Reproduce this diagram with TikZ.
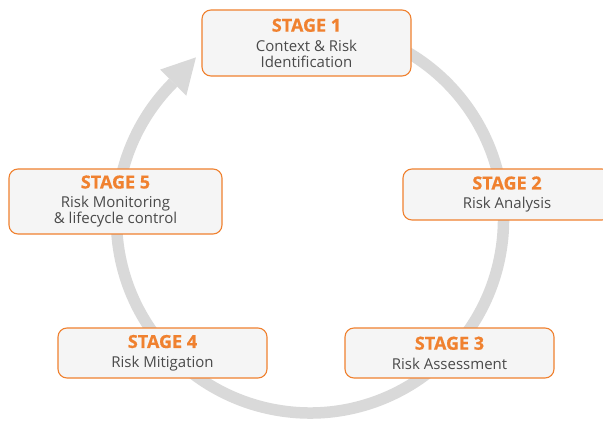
\documentclass[tikz,border=0pt]{standalone}
\usepackage{fontspec}
\setmainfont{Open Sans}
\newfontfamily\headfont[FakeBold=0.6]{Open Sans Bold}
\usetikzlibrary{calc}
\definecolor{stageorange}{HTML}{F0812F}
\definecolor{stagefill}{HTML}{F5F5F5}
\definecolor{ringgray}{HTML}{D9D9D9}
\definecolor{stagetext}{HTML}{4A4A4A}
\newcommand{\stagehead}[1]{{\fontsize{18}{18}\headfont\color{stageorange}STAGE #1}}
\tikzset{
  stagebox/.style={draw=stageorange, line width=1.1pt, fill=stagefill,
    rounded corners=9pt, align=center, inner sep=0pt, text=stagetext,
    font=\fontsize{15}{16}\selectfont},
  ring/.style={draw=ringgray, line width=11.5pt},
}
\begin{document}
\begin{tikzpicture}[x=1pt,y=1pt]
  \useasboundingbox (0,0) rectangle (603,421);
  \clip (0,0) rectangle (603,421);
  \fill[white] (0,0) rectangle (603,421);

  % the cycle ring and its arrow head
  \coordinate (c) at (310,201.5);
  \draw[ring] ($(c)+(80:193.5)$) arc[start angle=80, end angle=-225, radius=193.5];
  \coordinate (hb) at ($(c)+(135:193.5)$);
  \fill[ringgray] ($(c)+(135:175)$) -- ($(c)+(135:212)$) -- ($(hb)+(48:34)$) -- cycle;

  % stage boxes
  \node[stagebox, minimum width=209pt, minimum height=66pt] (s1) at (306.5,378)
    {\stagehead{1}\\[3.5pt]Context \& Risk\\Identification};
  \node[stagebox, minimum width=208pt, minimum height=51pt] (s2) at (507,226.5)
    {\stagehead{2}\\[3.5pt]Risk Analysis};
  \node[stagebox, minimum width=209pt, minimum height=50pt] (s3) at (449.5,68)
    {\stagehead{3}\\[3.5pt]Risk Assessment};
  \node[stagebox, minimum width=209pt, minimum height=50pt] (s4) at (162.5,68)
    {\stagehead{4}\\[3.5pt]Risk Mitigation};
  \node[stagebox, minimum width=213pt, minimum height=65pt] (s5) at (115.5,219.5)
    {\stagehead{5}\\[3.5pt]Risk Monitoring\\\& lifecycle control};
\end{tikzpicture}
\end{document}
